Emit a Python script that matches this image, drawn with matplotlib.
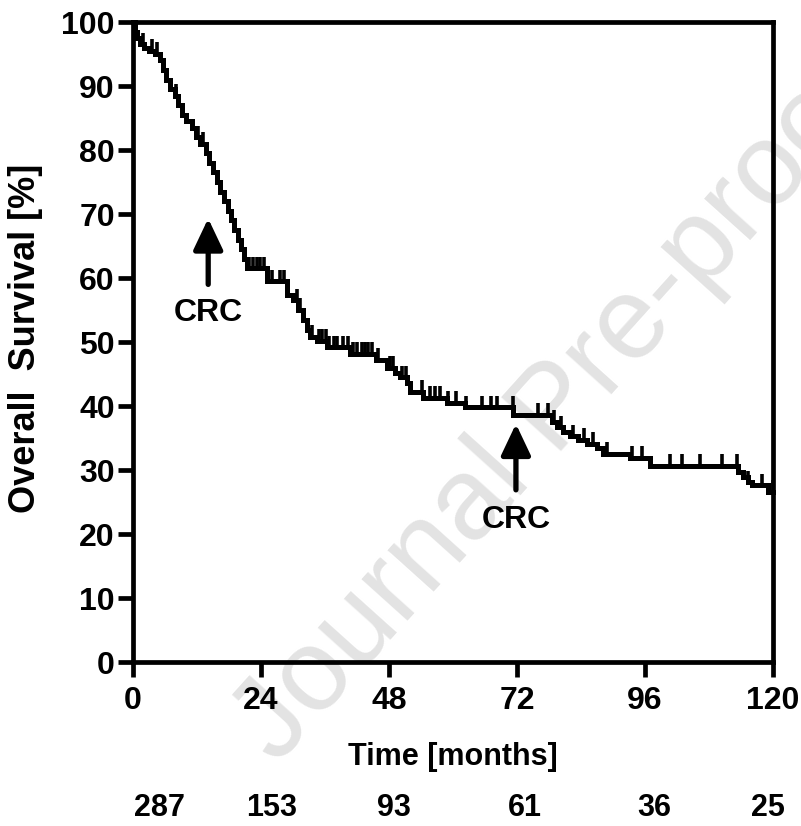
import numpy as np
import matplotlib
matplotlib.use("Agg")
import matplotlib.pyplot as plt
from matplotlib.transforms import blended_transform_factory

plt.rcParams['font.family'] = ['Liberation Sans', 'DejaVu Sans']
plt.rcParams['font.weight'] = 'bold'

# Kaplan-Meier steps: time of drop (months) and survival after the drop (%)
event_t = [0.3, 0.8, 1.3, 2.0, 3.0, 4.2, 5.0, 5.6, 6.2, 7.0, 7.8, 8.5, 9.2, 10.0,
           11.0, 11.8, 12.6, 13.6, 14.3, 15.0, 15.7, 16.4, 17.1, 17.8, 18.4, 19.0,
           19.6, 20.2, 20.8, 21.4, 25.1, 28.9, 30.0, 31.0, 31.9, 32.6, 33.2, 34.5,
           36.4, 40.7, 45.5, 47.6, 49.1, 50.1, 51.4, 51.9, 54.4, 58.9, 62.3, 71.3,
           78.6, 79.5, 80.6, 81.9, 83.4, 85.1, 87.0, 88.1, 93.2, 96.9, 113.4, 114.4,
           115.3, 116.1, 119.1]
event_s = [98.5, 97.5, 96.5, 96.0, 95.5, 95.0, 94.0, 92.5, 91.0, 89.5, 88.5, 87.0,
           85.5, 84.5, 83.5, 82.0, 81.0, 79.5, 78.0, 76.5, 75.0, 73.5, 72.0, 70.5,
           69.0, 67.5, 66.0, 64.5, 63.0, 61.5, 59.5, 57.3, 56.5, 55.0, 53.4, 51.9,
           50.8, 50.2, 49.2, 48.2, 47.2, 46.0, 45.2, 44.5, 43.6, 42.2, 41.3, 40.5,
           39.8, 38.6, 37.5, 36.7, 35.9, 35.3, 34.7, 34.1, 33.4, 32.5, 31.9, 30.7,
           29.7, 28.9, 28.1, 27.6, 26.6]

# censored observations (months)
censor_t = [1.8, 3.5, 4.5, 8.0, 12.2, 13.2, 21.8, 22.5, 23.2, 23.8, 24.5, 26.0,
            27.6, 28.4, 29.1, 30.7, 31.4, 33.6, 34.9, 35.4, 36.1, 36.8, 37.6, 38.2,
            39.4, 40.3, 41.2, 42.0, 42.9, 43.5, 44.1, 44.8, 45.9, 48.2, 48.8, 50.4,
            51.1, 54.2, 55.7, 56.6, 57.6, 59.1, 60.6, 62.5, 65.5, 67.2, 68.3, 71.2,
            75.9, 77.8, 79.0, 80.2, 82.5, 84.5, 86.2, 88.9, 93.6, 95.4, 100.7, 102.9,
            106.3, 110.4, 113.2, 115.3, 117.9, 120.0]

x_ticks = [0, 24, 48, 72, 96, 120]
y_ticks = list(range(0, 101, 10))
at_risk = [287, 153, 93, 61, 36, 25]
at_risk_x = [5.0, 26.0, 49.0, 73.5, 97.8, 119.0]
crc_t = [14.1, 71.8]
crc_tip = [69.3, 37.2]
crc_tail = [59.0, 26.9]
crc_text_y = [54.6, 22.2]

fig = plt.figure(figsize=(8.01, 8.26), dpi=100)
ax = fig.add_axes([133 / 801, 1 - 662 / 826, 640 / 801, 640 / 826])
ax.set_facecolor('none')

# step curve
t = np.concatenate([[0], event_t, [120]])
s = np.concatenate([[100], event_s, [event_s[-1]]])
ax.step(t, s, where='post', color='black', lw=3.6, zorder=3, clip_on=False,
        solid_joinstyle='miter')

# censor marks
ct = np.array(censor_t)
idx = np.searchsorted(t, ct, side='right') - 1
cs = s[idx]
ax.vlines(ct, cs, cs + 1.8, color='black', lw=2.6, zorder=3, clip_on=False)

# CRC arrows
for xt, tip, tail, ty in zip(crc_t, crc_tip, crc_tail, crc_text_y):
    ax.annotate('', xy=(xt, tip), xytext=(xt, tail),
                arrowprops=dict(arrowstyle='-|>,head_length=0.95,head_width=0.45',
                                mutation_scale=20, lw=3.8, color='black',
                                shrinkA=0, shrinkB=0))
    ax.text(xt, ty, 'CRC', ha='center', va='center', fontsize=23,
            fontweight='bold')

ax.set_xlim(0, 120)
ax.set_ylim(0, 100)
ax.set_xticks(x_ticks)
ax.set_yticks(y_ticks)
ax.tick_params(axis='both', width=3.4, length=11, labelsize=23, direction='out')
ax.tick_params(axis='x', pad=6)
ax.tick_params(axis='y', pad=2)
for lab in ax.get_xticklabels() + ax.get_yticklabels():
    lab.set_fontweight('bold')
for sp in ax.spines.values():
    sp.set_linewidth(3.4)

ax.set_xlabel('Time [months]', fontsize=22, fontweight='bold')
ax.xaxis.set_label_coords(0.5, -0.125)
ax.set_ylabel('Overall  Survival [%]', fontsize=26, fontweight='bold')
ax.yaxis.set_label_coords(-0.14, 0.505)

# numbers at risk
risk_tr = blended_transform_factory(ax.transData, fig.transFigure)
for xv, n in zip(at_risk_x, at_risk):
    ax.text(xv, 0.022, str(n), transform=risk_tr, ha='center', va='center',
            fontsize=22, fontweight='bold')

# watermark
fig.text(556 / 801, 1 - 411 / 826, 'Journal Pre-proof', rotation=48,
         rotation_mode='anchor', fontsize=84, fontweight='normal',
         color='#e3e3e3', ha='center', va='center', zorder=-1)

fig.savefig('out.png', dpi=100)
